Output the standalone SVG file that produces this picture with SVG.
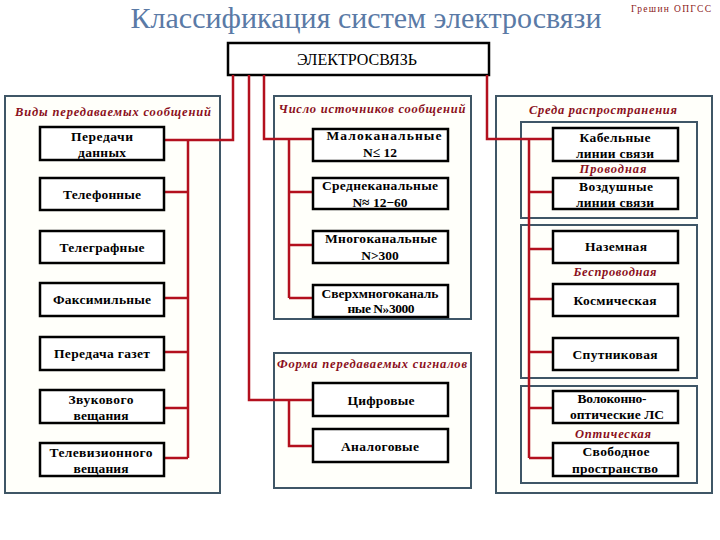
<svg xmlns="http://www.w3.org/2000/svg" width="720" height="540" viewBox="0 0 720 540">
<style>
.grp{fill:#fffffa;stroke:#3f5666;stroke-width:2}
.box{fill:#ffffff;stroke:#000;stroke-width:2.5}
.bt{font-family:'Liberation Serif','Times New Roman','DejaVu Serif',serif;font-weight:bold;font-size:13.5px;fill:#000;text-anchor:middle}
.gt{font-family:'Liberation Serif','Times New Roman','DejaVu Serif',serif;font-weight:bold;font-style:italic;font-size:12.5px;fill:#8b1020;text-anchor:middle}
.con{fill:none;stroke:#b3101e;stroke-width:2.5}
.ser{font-family:'Liberation Serif','Times New Roman','DejaVu Serif',serif}
</style>
<rect width="720" height="540" fill="#ffffff"/>
<text class="ser" x="366" y="28" font-size="30" fill="#5a7aa6" text-anchor="middle" textLength="471">Классификация систем электросвязи</text>
<text class="ser" x="671" y="12" font-size="9.5" fill="#8b2020" text-anchor="middle" textLength="80">Грешин ОПГСС</text>

<g id="root">
<rect x="228" y="43" width="261" height="32" fill="#fff" stroke="#000" stroke-width="2.5"/>
<text class="ser" x="357" y="65" font-size="16" fill="#000" text-anchor="middle">ЭЛЕКТРОСВЯЗЬ</text>
</g>

<g id="group-vidy">
<rect class="grp" x="5" y="96" width="215" height="397"/>
<text class="gt" x="113" y="116" textLength="196">Виды передаваемых сообщений</text>
</g>
<g id="group-chislo">
<rect class="grp" x="274" y="96" width="197" height="223"/>
<text class="gt" x="372" y="113" textLength="187">Число источников сообщений</text>
</g>
<g id="group-forma">
<rect class="grp" x="274" y="353" width="197" height="135"/>
<text class="gt" x="372" y="368" textLength="190">Форма передаваемых сигналов</text>
</g>
<g id="group-sreda">
<rect class="grp" x="496" y="96" width="216" height="397"/>
<text class="gt" x="603" y="114" textLength="148">Среда распространения</text>
<rect class="grp" x="521" y="122" width="176" height="96"/>
<rect class="grp" x="521" y="225" width="176" height="153"/>
<rect class="grp" x="521" y="386" width="176" height="97"/>
<text class="gt" x="613" y="173" textLength="67">Проводная</text>
<text class="gt" x="615" y="276" textLength="83">Беспроводная</text>
<text class="gt" x="613" y="438" textLength="76">Оптическая</text>
</g>

<g id="connectors">
<path class="con" d="M233 75 V140 H164"/>
<path class="con" d="M188 140 V458 M164 192 H188 M164 298 H188 M164 352 H188 M164 408 H188 M164 458 H188"/>
<path class="con" d="M249 75 V400 H313"/>
<path class="con" d="M289 400 V446 H313"/>
<path class="con" d="M264 75 V139 H313"/>
<path class="con" d="M289 139 V298 M289 192 H313 M289 245 H313 M289 298 H313"/>
<path class="con" d="M487 75 V139 H553"/>
<path class="con" d="M529 139 V458 M529 192 H553 M529 249 H553 M529 299 H553 M529 352 H553 M529 408 H553 M529 458 H553"/>
</g>

<g id="n-peredachi-dannyh"><rect class="box" x="40" y="127" width="124" height="33"/><text class="bt" x="102" y="141" textLength="62">Передачи</text><text class="bt" x="102" y="157" textLength="48">данных</text></g>
<g id="n-telefonnye"><rect class="box" x="40" y="178" width="124" height="32"/><text class="bt" x="102" y="199" textLength="78">Телефонные</text></g>
<g id="n-telegrafnye"><rect class="box" x="40" y="231" width="124" height="32"/><text class="bt" x="102" y="252" textLength="85">Телеграфные</text></g>
<g id="n-faksimilnye"><rect class="box" x="40" y="283" width="124" height="33"/><text class="bt" x="102" y="304" textLength="98">Факсимильные</text></g>
<g id="n-gazet"><rect class="box" x="40" y="337" width="124" height="33"/><text class="bt" x="102" y="358" textLength="96">Передача газет</text></g>
<g id="n-zvuk"><rect class="box" x="40" y="390" width="124" height="33"/><text class="bt" x="101" y="404" textLength="65">Звукового</text><text class="bt" x="101" y="420" textLength="55">вещания</text></g>
<g id="n-tv"><rect class="box" x="40" y="443" width="124" height="33"/><text class="bt" x="101" y="457" textLength="103">Телевизионного</text><text class="bt" x="101" y="473" textLength="55">вещания</text></g>

<g id="n-malo"><rect class="box" x="313" y="129" width="135" height="32"/><text class="bt" x="384" y="140" textLength="115">Малоканальные</text><text class="bt" x="380" y="157">N≤ 12</text></g>
<g id="n-sredne"><rect class="box" x="313" y="178" width="135" height="31"/><text class="bt" x="380" y="190" textLength="116">Среднеканальные</text><text class="bt" x="380" y="207">N≈ 12−60</text></g>
<g id="n-mnogo"><rect class="box" x="313" y="231" width="135" height="32"/><text class="bt" x="381" y="243" textLength="112">Многоканальные</text><text class="bt" x="380" y="260">N&gt;300</text></g>
<g id="n-sverh"><rect class="box" x="313" y="285" width="135" height="32"/><text class="bt" x="380" y="298" textLength="117">Сверхмногоканаль</text><text class="bt" x="381" y="313" textLength="67">ные N»3000</text></g>

<g id="n-cifr"><rect class="box" x="313" y="383" width="135" height="33"/><text class="bt" x="381" y="405" textLength="67">Цифровые</text></g>
<g id="n-analog"><rect class="box" x="313" y="429" width="135" height="33"/><text class="bt" x="380" y="451" textLength="78">Аналоговые</text></g>

<g id="n-kabel"><rect class="box" x="553" y="128" width="125" height="33"/><text class="bt" x="615" y="142" textLength="71">Кабельные</text><text class="bt" x="615" y="158" textLength="78">линии связи</text></g>
<g id="n-vozd"><rect class="box" x="553" y="178" width="125" height="31"/><text class="bt" x="616" y="191" textLength="74">Воздушные</text><text class="bt" x="615" y="207" textLength="78">линии связи</text></g>
<g id="n-nazem"><rect class="box" x="553" y="231" width="125" height="32"/><text class="bt" x="616" y="251" textLength="62">Наземная</text></g>
<g id="n-kosm"><rect class="box" x="553" y="284" width="125" height="32"/><text class="bt" x="615" y="305" textLength="83">Космическая</text></g>
<g id="n-sputn"><rect class="box" x="553" y="338" width="125" height="32"/><text class="bt" x="615" y="359" textLength="85">Спутниковая</text></g>
<g id="n-volok"><rect class="box" x="553" y="391" width="125" height="32"/><text class="bt" x="612" y="403" textLength="69">Волоконно-</text><text class="bt" x="617" y="419" textLength="94">оптические ЛС</text></g>
<g id="n-svob"><rect class="box" x="553" y="443" width="125" height="33"/><text class="bt" x="616" y="456" textLength="67">Свободное</text><text class="bt" x="615" y="473" textLength="86">пространство</text></g>
</svg>
